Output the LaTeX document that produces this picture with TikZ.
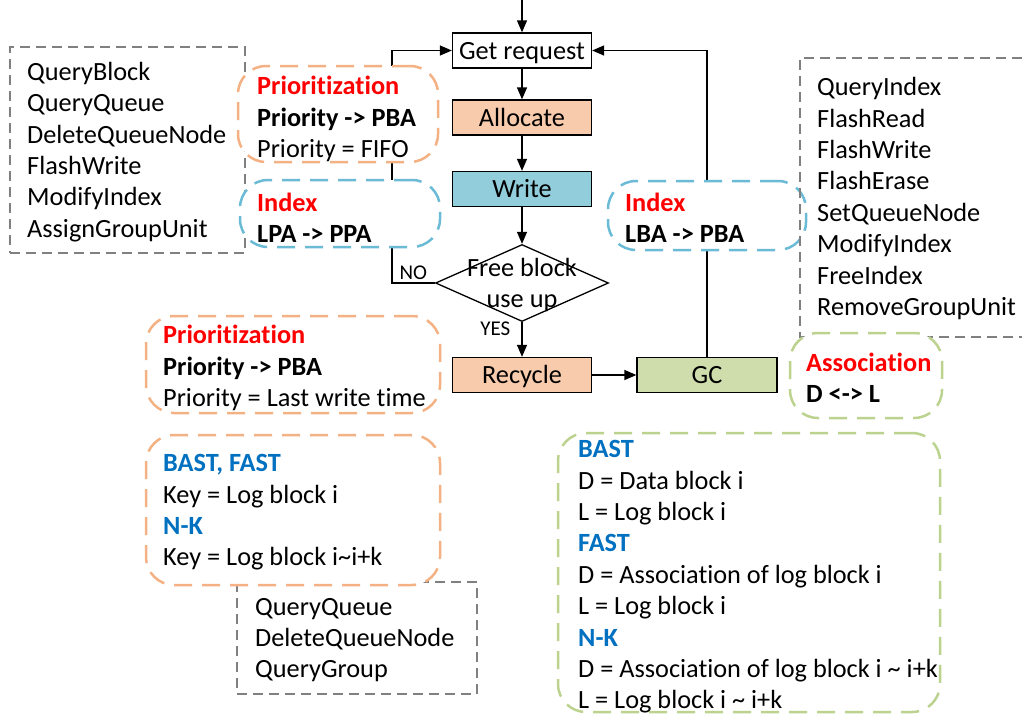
\documentclass[tikz,border=0pt]{standalone}
\usepackage{fontspec}
\setmainfont{Carlito}[Ligatures=NoCommon]
\usetikzlibrary{arrows.meta,shapes.geometric}

\definecolor{peach}{HTML}{F8CBAD}
\definecolor{wblue}{HTML}{92CDDC}
\definecolor{gcgreen}{HTML}{CFDDAC}
\definecolor{orangeline}{HTML}{F4B183}
\definecolor{blueline}{HTML}{6BBBD6}
\definecolor{greenline}{HTML}{BCD38F}
\definecolor{alert}{HTML}{FF0000}
\definecolor{scheme}{HTML}{0070C0}

\newcommand{\bodyfont}{\fontsize{26.3}{31.4}\selectfont}
\newcommand{\redhead}[1]{\textcolor{alert}{\bfseries #1}}
\newcommand{\bluehead}[1]{\textcolor{scheme}{\bfseries #1}}

\tikzset{
  procbox/.style={draw, line width=1.3, minimum width=139, minimum height=35,
    inner sep=0pt, text height=23, text depth=6, font=\bodyfont},
  decision/.style={draw, diamond, line width=1.3, minimum width=173,
    minimum height=77, inner sep=0pt},
  flow/.style={->, line width=1.3},
  smalltxt/.style={font=\fontsize{21}{23}\selectfont, inner sep=3pt},
  dashbox/.style={line width=2.5, dash pattern=on 18 off 10,
    rounded corners=28, fill=white, inner sep=0pt},
  orangebox/.style={dashbox, draw=orangeline},
  bluebox/.style={dashbox, draw=blueline},
  greenbox/.style={dashbox, draw=greenline},
  opsline/.style={draw=gray, line width=1.4, dash pattern=on 10 off 6},
  opsbox/.style={opsline, inner sep=0pt},
  txt/.style={anchor=west, align=left, inner sep=0pt, font=\bodyfont},
}

\begin{document}
\begin{tikzpicture}[x=1pt, y=-1pt, >={Triangle[length=12pt,width=10pt]}]
  \useasboundingbox (0,0) rectangle (1022,718);

  % gray lists that lie behind the dashed boxes
  \node[opsbox, minimum width=235, minimum height=206] (opsA) at (127.5,150) {};
  \node[opsbox, minimum width=240, minimum height=112] (opsC) at (357,638) {};

  % main flow
  \def\cx{522}
  \node[procbox, fill=white] (req) at (\cx,50.5) {Get request};
  \node[procbox, fill=peach] (alloc) at (\cx,117.5) {Allocate};
  \node[procbox, fill=wblue] (write) at (\cx,189) {Write};
  \node[decision] (free) at (\cx,283) {};
  \node[font=\bodyfont, align=center, inner sep=0pt] (freetxt) at ([yshift=-2]free.center) {Free block\\use up};
  \node[procbox, fill=peach] (recyc) at (\cx,375) {Recycle};
  \node[procbox, fill=gcgreen, minimum width=140] (gc) at (707,375) {GC};

  % connectors
  \coordinate (entry) at (\cx,0);
  \draw[flow] (entry) -- (req);
  \draw[flow] (req) -- (alloc);
  \draw[flow] (alloc) -- (write);
  \draw[flow] (write) -- (free);
  \draw[flow] (free) -- node[pos=0.2, left, smalltxt, xshift=-8] (yes) {YES} (recyc);
  \draw[flow] (recyc) -- (gc);
  \draw[flow] (free.west) -- node[above, smalltxt] (no) {NO} ++(-43,0) |- (req.west);
  \draw[flow] (gc.north) |- (req.east);

  % dashed boxes (white fill hides the feedback lines)
  \node[orangebox, minimum width=200, minimum height=96] (prio1) at (338,114) {};
  \node[bluebox, minimum width=200, minimum height=67] (idx1) at (340,213.5) {};
  \node[bluebox, minimum width=198, minimum height=69] (idx2) at (707,215.5) {};
  \coordinate (opsB) at (800,58);
  \draw[opsline] (1022,58) -- (opsB) |- (1022,337);
  \node[greenbox, minimum width=152, minimum height=85] (assoc) at (866,375.5) {};
  \node[orangebox, minimum width=294, minimum height=97] (prio2) at (293,364.5) {};
  \node[orangebox, minimum width=294, minimum height=150] (keys) at (293,510) {};
  \node[greenbox, minimum width=382, minimum height=279] (dl) at (749,572.5) {};

  % texts
  \node[txt] (opsAtxt) at (27,152) {QueryBlock\\QueryQueue\\DeleteQueueNode\\FlashWrite\\ModifyIndex\\AssignGroupUnit};
  \node[txt] (opsBtxt) at (817,198.5) {QueryIndex\\FlashRead\\FlashWrite\\FlashErase\\SetQueueNode\\ModifyIndex\\FreeIndex\\RemoveGroupUnit};
  \node[txt] (opsCtxt) at (255,640) {QueryQueue\\DeleteQueueNode\\QueryGroup};
  \node[txt] (prio1txt) at (257,119) {\redhead{Prioritization}\\\textbf{Priority -> PBA}\\Priority = FIFO};
  \node[txt] (idx1txt) at (257,217.5) {\redhead{Index}\\\textbf{LPA -> PPA}};
  \node[txt] (idx2txt) at (625,217.5) {\redhead{Index}\\\textbf{LBA -> PBA}};
  \node[txt] (assoctxt) at (806,377.5) {\redhead{Association}\\\textbf{D <-> L}};
  \node[txt] (prio2txt) at (163,368) {\redhead{Prioritization}\\\textbf{Priority -> PBA}\\Priority = Last write time};
  \node[txt] (keystxt) at (163,512.5) {\bluehead{BAST, FAST}\\Key = Log block i\\\bluehead{N-K}\\Key = Log block i\textasciitilde i+k};
  \node[txt] (dltxt) at (578,577) {\bluehead{BAST}\\D = Data block i\\L = Log block i\\\bluehead{FAST}\\D = Association of log block i\\L = Log block i\\\bluehead{N-K}\\D = Association of log block i \textasciitilde{} i+k\\L = Log block i \textasciitilde{} i+k};
\end{tikzpicture}
\end{document}
